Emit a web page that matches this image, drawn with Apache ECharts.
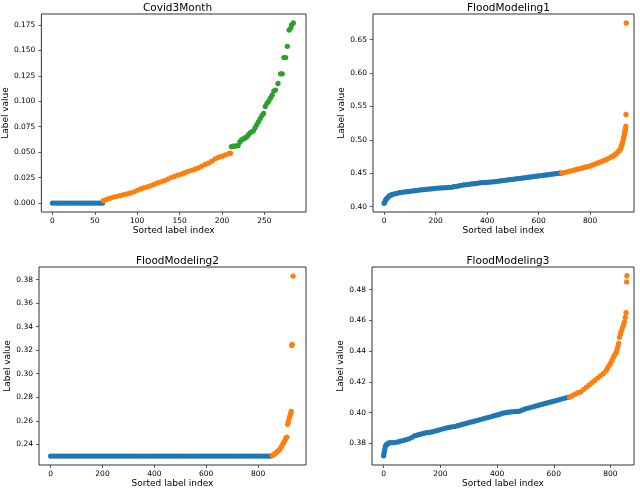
<!DOCTYPE html>
<html>
<head>
<meta charset="utf-8">
<script src="https://cdn.jsdelivr.net/npm/echarts@6/dist/echarts.min.js"></script>
<style>
html,body{margin:0;padding:0;background:#fff;}
#chart{width:640px;height:489px;}
</style>
</head>
<body>
<div id="chart"></div>
<script>
// ---- Data (sorted label index, label value) ----
const titles = ['Covid3Month', 'FloodModeling1', 'FloodModeling2', 'FloodModeling3'];

const covidBlue = [[0,0],[3,0],[6,0],[9,0],[12,0],[15,0],[18,0],[21,0],[24,0],[27,0],[30,0],[33,0],[36,0],[39,0],[42,0],[45,0],[48,0],[51,0],[54,0],[57,0],[59,0]];
const covidOrange = [[60,0.0023],[64,0.0035],[68,0.0048],[72,0.0058],[76,0.0066],[80,0.0074],[84,0.0082],[88,0.0090],[92,0.0099],[96,0.0110],[100,0.0125],[104,0.0138],[108,0.0150],[112,0.0158],[116,0.0170],[120,0.0183],[124,0.0198],[128,0.0209],[132,0.0220],[136,0.0235],[140,0.0250],[144,0.0262],[148,0.0275],[152,0.0284],[156,0.0298],[160,0.0312],[164,0.0322],[168,0.0332],[172,0.0345],[176,0.0362],[180,0.0380],[184,0.0392],[188,0.0412],[192,0.0435],[196,0.0450],[200,0.0460],[204,0.0472],[208,0.0485],[210,0.0490]];
const covidGreen = [[211,0.0555],[213,0.0558],[215,0.0560],[217,0.0562],[219,0.0565],[221,0.0600],[223,0.0620],[225,0.0630],[227,0.0640],[229,0.0650],[231,0.0670],[233,0.0690],[235,0.0700],[237,0.0710],[239,0.0740],[241,0.0770],[243,0.0800],[245,0.0830],[247,0.0860],[249,0.0880],[251,0.0950],[253,0.0980],[255,0.1000],[257,0.1030],[259,0.1060],[261,0.1100],[263,0.1110],[266,0.1175],[269,0.1270],[271,0.1270],[273,0.1430],[275,0.1430],[277,0.1540],[279,0.1700],[281,0.1720],[282,0.1750],[284,0.1770]];

const flood1Blue = [[0,0.405],[3,0.407],[6,0.410],[10,0.412],[15,0.414],[20,0.416],[25,0.417],[30,0.418],[40,0.419],[50,0.420],[60,0.421],[70,0.4215],[80,0.422],[90,0.4225],[100,0.423],[110,0.4235],[120,0.424],[130,0.4245],[140,0.425],[150,0.4255],[160,0.426],[170,0.4262],[180,0.4265],[190,0.427],[200,0.4275],[210,0.4278],[220,0.428],[230,0.4282],[240,0.4285],[250,0.4288],[260,0.429],[270,0.4298],[280,0.4305],[290,0.431],[300,0.432],[310,0.4325],[320,0.433],[330,0.4335],[340,0.434],[350,0.4345],[360,0.435],[370,0.4355],[380,0.436],[390,0.4362],[400,0.4365],[410,0.4368],[420,0.437],[430,0.4375],[440,0.438],[450,0.4385],[460,0.439],[470,0.4395],[480,0.440],[490,0.4405],[500,0.441],[510,0.4415],[520,0.442],[530,0.4425],[540,0.443],[550,0.4435],[560,0.444],[570,0.4445],[580,0.445],[590,0.4455],[600,0.446],[610,0.4465],[620,0.447],[630,0.4475],[640,0.448],[650,0.4485],[660,0.449],[670,0.4495],[680,0.450],[688,0.4502]];
const flood1Orange = [[690,0.4505],[700,0.451],[710,0.452],[720,0.453],[730,0.454],[740,0.455],[750,0.456],[760,0.457],[770,0.458],[780,0.459],[790,0.460],[800,0.461],[810,0.4625],[820,0.464],[830,0.4655],[840,0.467],[850,0.4685],[860,0.470],[870,0.472],[880,0.474],[885,0.475],[890,0.476],[895,0.4775],[900,0.479],[905,0.481],[910,0.483],[915,0.485],[918,0.487],[920,0.490],[922,0.492],[925,0.495],[927,0.498],[929,0.502],[931,0.505],[933,0.508],[934,0.510],[935,0.513],[936,0.515],[937,0.518],[938,0.520],[939,0.538],[940,0.675]];

const flood2Blue = [[0,0.230],[10,0.230],[20,0.230],[30,0.230],[40,0.230],[50,0.230],[60,0.230],[70,0.230],[80,0.230],[90,0.230],[100,0.230],[110,0.230],[120,0.230],[130,0.230],[140,0.230],[150,0.230],[160,0.230],[170,0.230],[180,0.230],[190,0.230],[200,0.230],[210,0.230],[220,0.230],[230,0.230],[240,0.230],[250,0.230],[260,0.230],[270,0.230],[280,0.230],[290,0.230],[300,0.230],[310,0.230],[320,0.230],[330,0.230],[340,0.230],[350,0.230],[360,0.230],[370,0.230],[380,0.230],[390,0.230],[400,0.230],[410,0.230],[420,0.230],[430,0.230],[440,0.230],[450,0.230],[460,0.230],[470,0.230],[480,0.230],[490,0.230],[500,0.230],[510,0.230],[520,0.230],[530,0.230],[540,0.230],[550,0.230],[560,0.230],[570,0.230],[580,0.230],[590,0.230],[600,0.230],[610,0.230],[620,0.230],[630,0.230],[640,0.230],[650,0.230],[660,0.230],[670,0.230],[680,0.230],[690,0.230],[700,0.230],[710,0.230],[720,0.230],[730,0.230],[740,0.230],[750,0.230],[760,0.230],[770,0.230],[780,0.230],[790,0.230],[800,0.230],[810,0.230],[820,0.230],[830,0.230],[840,0.230],[850,0.230]];
const flood2Orange = [[855,0.2305],[860,0.231],[865,0.232],[870,0.233],[875,0.234],[880,0.235],[885,0.236],[890,0.238],[895,0.240],[900,0.242],[905,0.244],[908,0.2455],[911,0.246],[914,0.257],[917,0.259],[920,0.262],[923,0.264],[926,0.266],[928,0.268],[930,0.324],[932,0.325],[935,0.383]];

const flood3Blue = [[0,0.372],[2,0.374],[4,0.376],[6,0.378],[9,0.379],[12,0.3795],[16,0.380],[21,0.3805],[30,0.3805],[40,0.3806],[50,0.381],[60,0.3815],[70,0.382],[80,0.3825],[90,0.383],[100,0.384],[110,0.385],[120,0.3855],[130,0.386],[140,0.3865],[150,0.387],[160,0.3872],[170,0.3875],[180,0.388],[190,0.3885],[200,0.389],[210,0.3895],[220,0.390],[230,0.3904],[240,0.3908],[250,0.391],[260,0.3915],[270,0.392],[280,0.3925],[290,0.393],[300,0.3935],[310,0.394],[320,0.3945],[330,0.395],[340,0.3955],[350,0.396],[360,0.3965],[370,0.397],[380,0.3975],[390,0.398],[400,0.3985],[410,0.399],[420,0.3997],[430,0.400],[440,0.4003],[450,0.4005],[460,0.4007],[470,0.4008],[480,0.401],[490,0.4018],[500,0.4025],[510,0.403],[520,0.4035],[530,0.404],[540,0.4045],[550,0.405],[560,0.4055],[570,0.406],[580,0.4065],[590,0.407],[600,0.4075],[610,0.408],[620,0.4085],[630,0.409],[640,0.4095],[650,0.410]];
const flood3Orange = [[656,0.4102],[665,0.411],[675,0.412],[685,0.413],[695,0.4135],[705,0.415],[715,0.4165],[725,0.418],[735,0.4195],[745,0.421],[755,0.4225],[765,0.424],[775,0.4255],[785,0.4275],[790,0.429],[795,0.4305],[800,0.432],[805,0.434],[810,0.436],[815,0.4375],[820,0.439],[823,0.441],[826,0.443],[829,0.445],[832,0.449],[835,0.451],[838,0.453],[842,0.455],[846,0.457],[849,0.459],[852,0.462],[855,0.465],[857,0.485],[858,0.489]];

// ---- Tick labels ----
const covidXTicks = [0, 50, 100, 150, 200, 250];
const covidYTicks = [0, 0.025, 0.05, 0.075, 0.1, 0.125, 0.15, 0.175];
const floodXTicks = [0, 200, 400, 600, 800];
const flood1YTicks = [0.40, 0.45, 0.50, 0.55, 0.60, 0.65];
const flood2YTicks = [0.24, 0.26, 0.28, 0.30, 0.32, 0.34, 0.36, 0.38];
const flood3YTicks = [0.38, 0.40, 0.42, 0.44, 0.46, 0.48];

// ---- Layout ----
const FONT = 'DejaVu Sans';
const BLUE = '#1f77b4', ORANGE = '#ff7f0e', GREEN = '#2ca02c';
const grids = [
  {left: 39, top: 14, width: 267, height: 198},
  {left: 373, top: 14, width: 261, height: 198},
  {left: 39, top: 267, width: 267, height: 198},
  {left: 372, top: 267, width: 262, height: 198}
];
const xRanges = [[-13, 299], [-43, 970], [-45, 985], [-41, 883]];
const yRanges = [[-0.0088, 0.1858], [0.392, 0.6885], [0.2224, 0.3907], [0.366, 0.4947]];
const xTickSets = [covidXTicks, floodXTicks, floodXTicks, floodXTicks];
const yTickSets = [covidYTicks, flood1YTicks, flood2YTicks, flood3YTicks];
const yDigits = [3, 2, 2, 2];
const yNameGaps = [29, 26, 25, 25];

const option = {
  animation: false,
  backgroundColor: '#ffffff',
  title: grids.map((g, k) => ({
    text: titles[k],
    left: g.left + g.width / 2,
    top: k < 2 ? -2 : 251,
    textAlign: 'center',
    textStyle: {fontFamily: FONT, fontSize: 10.5, fontWeight: 'normal', color: '#000'}
  })),
  grid: grids.map(g => Object.assign({show: true, borderColor: '#333', borderWidth: 1, backgroundColor: '#fff', containLabel: false}, g)),
  xAxis: grids.map((g, k) => ({
    type: 'value', gridIndex: k, position: 'bottom',
    min: xRanges[k][0], max: xRanges[k][1],
    name: 'Sorted label index', nameLocation: 'middle', nameGap: 13,
    nameTextStyle: {fontFamily: FONT, fontSize: 9, color: '#000'},
    axisLine: {show: false, onZero: false},
    splitLine: {show: false},
    axisTick: {show: true, inside: false, length: 3, customValues: xTickSets[k], lineStyle: {color: '#333', width: 0.8}},
    axisLabel: {customValues: xTickSets[k], margin: 5, fontFamily: FONT, fontSize: 7.5, color: '#000', formatter: v => String(v)}
  })),
  yAxis: grids.map((g, k) => ({
    type: 'value', gridIndex: k, position: 'left',
    min: yRanges[k][0], max: yRanges[k][1],
    name: 'Label value', nameLocation: 'middle', nameGap: yNameGaps[k], nameRotate: 90,
    nameTextStyle: {fontFamily: FONT, fontSize: 9, color: '#000'},
    axisLine: {show: false, onZero: false},
    splitLine: {show: false},
    axisTick: {show: true, inside: false, length: 3, customValues: yTickSets[k], lineStyle: {color: '#333', width: 0.8}},
    axisLabel: {customValues: yTickSets[k], margin: 6, fontFamily: FONT, fontSize: 7.5, color: '#000', formatter: v => v.toFixed(yDigits[k])}
  })),
  series: []
};

function addSeries(data, k, color) {
  option.series.push({
    type: 'scatter', xAxisIndex: k, yAxisIndex: k,
    data: data, symbol: 'circle', symbolSize: 5.3,
    itemStyle: {color: color, opacity: 1},
    silent: true
  });
}
addSeries(covidBlue, 0, BLUE);
addSeries(covidOrange, 0, ORANGE);
addSeries(covidGreen, 0, GREEN);
addSeries(flood1Blue, 1, BLUE);
addSeries(flood1Orange, 1, ORANGE);
addSeries(flood2Blue, 2, BLUE);
addSeries(flood2Orange, 2, ORANGE);
addSeries(flood3Blue, 3, BLUE);
addSeries(flood3Orange, 3, ORANGE);

const chart = echarts.init(document.getElementById('chart'), null, {renderer: 'canvas'});
chart.setOption(option);
</script>
</body>
</html>
